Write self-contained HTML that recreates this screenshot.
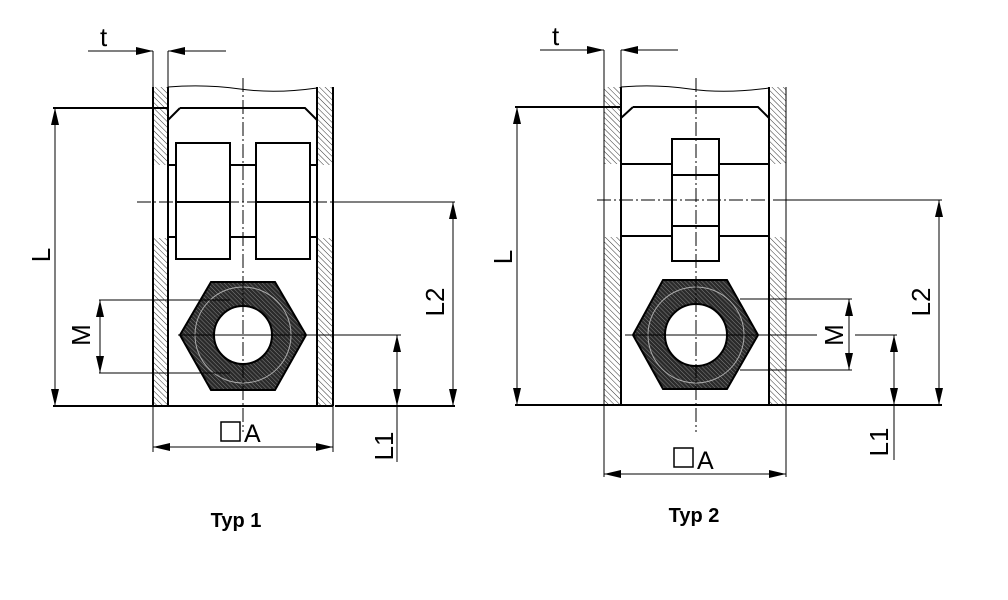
<!DOCTYPE html>
<html><head><meta charset="utf-8"><style>body{margin:0;background:#fff}svg{display:block}</style></head>
<body>
<svg width="1008" height="600" viewBox="0 0 1008 600" xmlns="http://www.w3.org/2000/svg" font-family="Liberation Sans, sans-serif">
<defs>
<pattern id="h" width="4" height="4" patternUnits="userSpaceOnUse" patternTransform="rotate(-45)">
<rect width="4" height="4" fill="#fff"/><line x1="0" y1="0" x2="0" y2="4" stroke="#333" stroke-width="1"/></pattern>
<pattern id="hd" width="3" height="3" patternUnits="userSpaceOnUse" patternTransform="rotate(-45)">
<rect width="3" height="3" fill="#2a2a2a"/><line x1="0" y1="0" x2="0" y2="3" stroke="#999" stroke-width="0.8"/></pattern>
</defs>
<g stroke="#000" fill="none">
<!-- ===== TYP 1 ===== -->
<rect x="153" y="87" width="15" height="78" fill="url(#h)" stroke="none"/>
<rect x="153" y="238" width="15" height="168" fill="url(#h)" stroke="none"/>
<rect x="317" y="87" width="16" height="78" fill="url(#h)" stroke="none"/>
<rect x="317" y="238" width="16" height="168" fill="url(#h)" stroke="none"/>
<line x1="153" y1="87" x2="153" y2="406" stroke-width="2"/>
<line x1="168" y1="87" x2="168" y2="406" stroke-width="2"/>
<line x1="317" y1="87" x2="317" y2="406" stroke-width="2"/>
<line x1="333" y1="87" x2="333" y2="406" stroke-width="2"/>
<path d="M168,87 Q205,84 240,89 T317,88" stroke-width="1"/>
<path d="M53,108 H168 M180,108 H305 L317,120 M168,120 L180,108" stroke-width="2"/>
<path d="M168,165 H317 M168,237 H317" stroke-width="2"/>
<rect x="176" y="143" width="54" height="116" fill="#fff" stroke-width="2"/>
<rect x="256" y="143" width="54" height="116" fill="#fff" stroke-width="2"/>
<path d="M176,202 H230 M256,202 H310" stroke-width="2"/>
<line x1="137" y1="202" x2="333" y2="202" stroke-width="1" stroke-dasharray="14,3,2,3"/>
<line x1="333" y1="202" x2="455" y2="202" stroke-width="1"/>
<polygon points="180,335 211,282 275,282 306,335 275,390 211,390" fill="url(#hd)" stroke-width="2"/>
<circle cx="243" cy="335" r="48" stroke="#aaa" stroke-width="1"/>
<circle cx="243" cy="335" r="29" fill="#fff" stroke-width="2"/>
<line x1="243" y1="78" x2="243" y2="432" stroke-width="1" stroke-dasharray="14,3,2,3"/>
<line x1="178" y1="335" x2="310" y2="335" stroke-width="1"/>
<line x1="310" y1="335" x2="401" y2="335" stroke-width="1"/>
<path d="M99,300 H230 M99,373 H230" stroke-width="1"/>
<line x1="100" y1="300" x2="100" y2="373" stroke-width="1"/>
<line x1="55" y1="108" x2="55" y2="406" stroke-width="1"/>
<line x1="453" y1="202" x2="453" y2="406" stroke-width="1"/>
<line x1="397" y1="335" x2="397" y2="462" stroke-width="1"/>
<path d="M53,406 H153 M153,406 H333 M335,406 H455" stroke-width="2"/>
<path d="M153,406 V452 M333,406 V452" stroke-width="1"/>
<line x1="153" y1="447" x2="333" y2="447" stroke-width="1"/>
<path d="M153,51 V87 M168,51 V87" stroke-width="1"/>
<line x1="88" y1="51" x2="153" y2="51" stroke-width="1"/>
<line x1="226" y1="51" x2="168" y2="51" stroke-width="1"/>
<rect x="221" y="422" width="19" height="19" stroke-width="1.5"/>

<!-- ===== TYP 2 ===== -->
<rect x="604" y="87" width="17" height="77" fill="url(#h)" stroke="none"/>
<rect x="604" y="237" width="17" height="168" fill="url(#h)" stroke="none"/>
<rect x="769" y="87" width="17" height="77" fill="url(#h)" stroke="none"/>
<rect x="769" y="237" width="17" height="168" fill="url(#h)" stroke="none"/>
<line x1="604" y1="87" x2="604" y2="405" stroke-width="1"/>
<line x1="621" y1="87" x2="621" y2="405" stroke-width="2"/>
<line x1="769" y1="87" x2="769" y2="405" stroke-width="2"/>
<line x1="786" y1="87" x2="786" y2="405" stroke-width="1"/>
<path d="M621,87 Q655,84 690,89 T769,88" stroke-width="1"/>
<path d="M515,107 H621 M633,107 H758 L769,118 M621,118 L633,107" stroke-width="2"/>
<path d="M621,164 H672 M719,164 H769 M621,236 H672 M719,236 H769" stroke-width="2"/>
<rect x="672" y="139" width="47" height="122" fill="#fff" stroke-width="2"/>
<path d="M672,175 H719 M672,226 H719" stroke-width="2"/>
<line x1="597" y1="200" x2="786" y2="200" stroke-width="1" stroke-dasharray="14,3,2,3"/>
<line x1="786" y1="200" x2="942" y2="200" stroke-width="1"/>
<polygon points="633,335 663,280 727,280 758,335 727,389 663,389" fill="url(#hd)" stroke-width="2"/>
<circle cx="696" cy="335" r="48" stroke="#aaa" stroke-width="1"/>
<circle cx="696" cy="335" r="31" fill="#fff" stroke-width="2"/>
<line x1="696" y1="78" x2="696" y2="432" stroke-width="1" stroke-dasharray="14,3,2,3"/>
<line x1="625" y1="335" x2="817" y2="335" stroke-width="1"/>
<line x1="855" y1="335" x2="897" y2="335" stroke-width="1"/>
<path d="M740,299 H852 M740,370 H852" stroke-width="1"/>
<line x1="849" y1="299" x2="849" y2="370" stroke-width="1"/>
<line x1="517" y1="107" x2="517" y2="405" stroke-width="1"/>
<line x1="939" y1="200" x2="939" y2="405" stroke-width="1"/>
<line x1="894" y1="335" x2="894" y2="460" stroke-width="1"/>
<path d="M515,405 H942" stroke-width="2"/>
<path d="M604,405 V477 M786,405 V477" stroke-width="1"/>
<line x1="604" y1="474" x2="786" y2="474" stroke-width="1"/>
<path d="M604,50 V87 M621,50 V87" stroke-width="1"/>
<line x1="540" y1="50" x2="604" y2="50" stroke-width="1"/>
<line x1="678" y1="50" x2="621" y2="50" stroke-width="1"/>
<rect x="674" y="448" width="19" height="19" stroke-width="1.5"/>
</g>
<g fill="#000" stroke="none">
<!-- up arrows: tip x,y -->
<polygon points="100,300 96,317 104,317"/>
<polygon points="100,373 96,356 104,356"/>
<polygon points="55,108 51,125 59,125"/>
<polygon points="55,406 51,389 59,389"/>
<polygon points="453,202 449,219 457,219"/>
<polygon points="453,406 449,389 457,389"/>
<polygon points="397,335 393,352 401,352"/>
<polygon points="397,406 393,389 401,389"/>
<polygon points="153,447 170,443 170,451"/>
<polygon points="333,447 316,443 316,451"/>
<polygon points="153,51 136,47 136,55"/>
<polygon points="168,51 185,47 185,55"/>
<polygon points="849,299 845,316 853,316"/>
<polygon points="849,370 845,353 853,353"/>
<polygon points="517,107 513,124 521,124"/>
<polygon points="517,405 513,388 521,388"/>
<polygon points="939,200 935,217 943,217"/>
<polygon points="939,405 935,388 943,388"/>
<polygon points="894,335 890,352 898,352"/>
<polygon points="894,405 890,388 898,388"/>
<polygon points="604,474 621,470 621,478"/>
<polygon points="786,474 769,470 769,478"/>
<polygon points="604,50 587,46 587,54"/>
<polygon points="621,50 638,46 638,54"/>
</g>
<g fill="#000" font-size="26">
<text x="100" y="46">t</text>
<text x="552" y="45">t</text>
<text x="244" y="442" font-size="25">A</text>
<text x="697" y="469" font-size="25">A</text>
<text transform="translate(50,255) rotate(-90)" text-anchor="middle">L</text>
<text transform="translate(512,257) rotate(-90)" text-anchor="middle">L</text>
<text transform="translate(444,302) rotate(-90)" text-anchor="middle">L2</text>
<text transform="translate(930,302) rotate(-90)" text-anchor="middle">L2</text>
<text transform="translate(393,446) rotate(-90)" text-anchor="middle">L1</text>
<text transform="translate(888,442) rotate(-90)" text-anchor="middle">L1</text>
<text transform="translate(90,335) rotate(-90)" text-anchor="middle">M</text>
<text transform="translate(843,335) rotate(-90)" text-anchor="middle">M</text>
<text x="236" y="527" font-size="20" font-weight="bold" text-anchor="middle">Typ 1</text>
<text x="694" y="522" font-size="20" font-weight="bold" text-anchor="middle">Typ 2</text>
</g>
</svg>
</body></html>
